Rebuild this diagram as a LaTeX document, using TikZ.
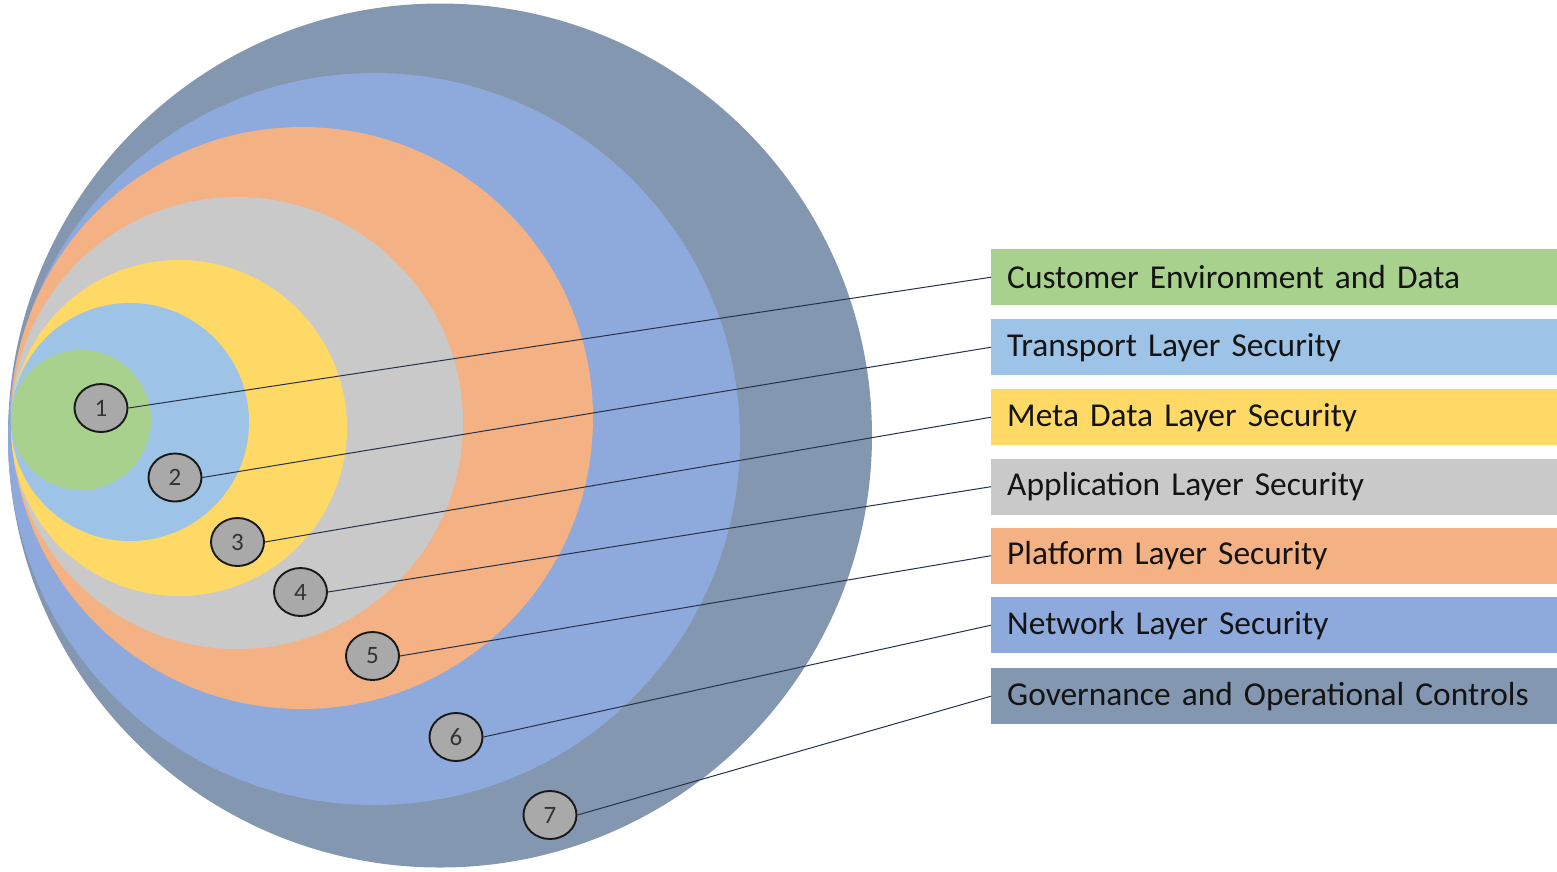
\documentclass[tikz,border=0pt]{standalone}
\usepackage{fontspec}
\setmainfont{Carlito}
\usetikzlibrary{shapes.geometric}
\definecolor{cSlate}{HTML}{8497B0}
\definecolor{cNet}{HTML}{8EA9DB}
\definecolor{cOrange}{HTML}{F4B183}
\definecolor{cGray}{HTML}{C9C9C9}
\definecolor{cYellow}{HTML}{FFD966}
\definecolor{cLBlue}{HTML}{9DC3E6}
\definecolor{cGreen}{HTML}{A9D18E}
\definecolor{cNum}{HTML}{A9A9A9}
\definecolor{cLine}{HTML}{26324A}
\definecolor{cText}{HTML}{141414}
\tikzset{
  layerbox/.style={rectangle, anchor=north west, minimum width=566pt, minimum height=56pt,
    inner xsep=16pt, inner ysep=0pt, text width=534pt, align=left, text=cText,
    font=\fontsize{33.4}{38}\selectfont},
  numbub/.style={ellipse, draw=black!90, line width=1.9pt, fill=cNum, minimum width=53pt,
    minimum height=48pt, inner sep=0pt, text=black!80, font=\fontsize{25}{27}\selectfont},
  conn/.style={draw=cLine, line width=1pt}
}
\begin{document}
\begin{tikzpicture}[x=1pt,y=-1pt]
\useasboundingbox (0,0) rectangle (1557,871);
% nested circles
\fill[cSlate] (440,435.5) circle[radius=432pt];
\fill[cNet] (374,439) circle[radius=366pt];
\fill[cOrange] (302,418) circle[radius=291pt];
\fill[cGray] (237,423) circle[radius=226pt];
\fill[cYellow] (179,428) circle[radius=168pt];
\fill[cLBlue] (130,422) circle[radius=119pt];
\fill[cGreen] (81,420) circle[radius=70pt];
% label boxes
\node[layerbox, fill=cGreen] (b1) at (991,249) {Customer Environment and Data};
\node[layerbox, fill=cLBlue] (b2) at (991,319) {Transport Layer Security};
\node[layerbox, fill=cYellow] (b3) at (991,389) {Meta Data Layer Security};
\node[layerbox, fill=cGray] (b4) at (991,458.5) {Application Layer Security};
\node[layerbox, fill=cOrange] (b5) at (991,527.5) {Platform Layer Security};
\node[layerbox, fill=cNet] (b6) at (991,597) {Network Layer Security};
\node[layerbox, fill=cSlate] (b7) at (991,668) {Governance and Operational Controls};
% number bubbles
\node[numbub] (n1) at (101,408) {1};
\node[numbub] (n2) at (175,477.5) {2};
\node[numbub] (n3) at (237.5,542) {3};
\node[numbub] (n4) at (300.5,592) {4};
\node[numbub] (n5) at (372.5,656) {5};
\node[numbub] (n6) at (456,737) {6};
\node[numbub] (n7) at (550,815) {7};
% connectors
\foreach \i in {1,...,7}{
  \draw[conn] (n\i.east) -- (b\i.west);
}
\end{tikzpicture}
\end{document}
